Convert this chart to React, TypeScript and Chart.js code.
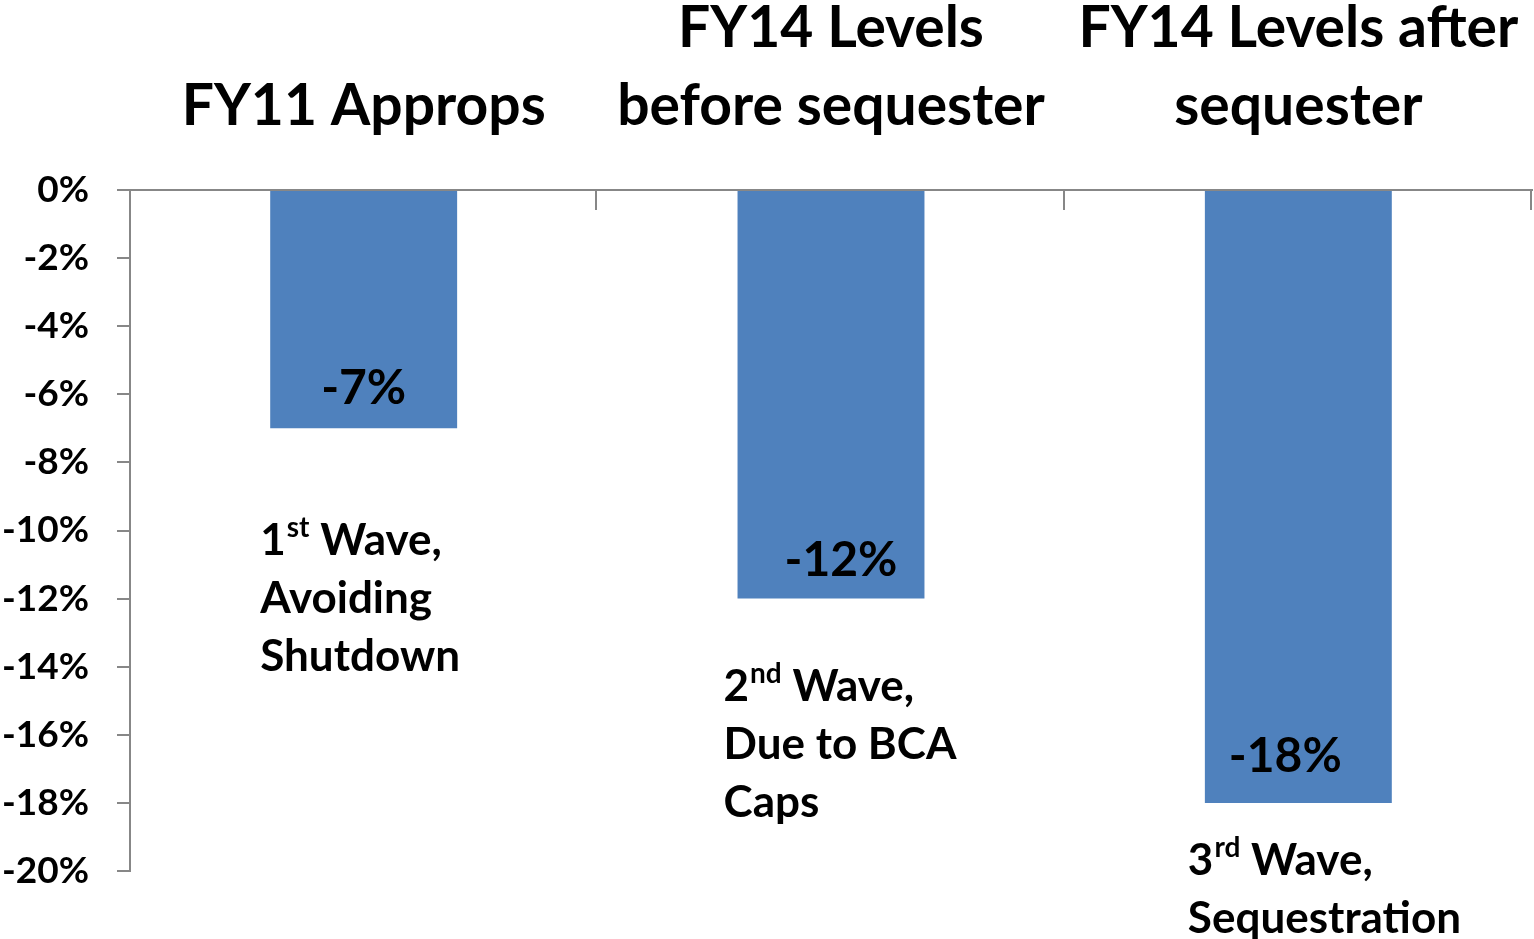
import { useEffect, useRef } from "react";
import { Chart, registerables } from "chart.js";

Chart.register(...registerables);

const categories: string[][] = [
  ["FY11 Approps"],
  ["FY14 Levels", "before sequester"],
  ["FY14 Levels after", "sequester"],
];
const changes: number[] = [-7, -12, -18];
const dataLabels: string[] = ["-7%", "-12%", "-18%"];
const dataLabelAnchors: number[] = [-5.82, -10.87, -16.65];
const yTicks: number[] = [0, -2, -4, -6, -8, -10, -12, -14, -16, -18, -20];
const waveNumbers: string[] = ["1", "2", "3"];
const waveSuffixes: string[] = ["st", "nd", "rd"];
const waveLines: string[][] = [
  ["Avoiding", "Shutdown"],
  ["Due to BCA", "Caps"],
  ["Sequestration"],
];
const waveAnchors: number[] = [-10.3, -14.6, -19.7];

// style offsets (pixels)
const LABEL_DX = [0, 10, -13];
const WAVE_DX = [-10, -14, -17];

const FONT = "Lato, 'Open Sans', sans-serif";
const AXIS_GREY = "#878787";
const BAR_BLUE = "#4F81BD";

const overlayPlugin = {
  id: "overlay",
  afterDatasetsDraw(chart: any) {
    const ctx = chart.ctx;
    const meta = chart.getDatasetMeta(0);
    const xs = chart.scales.x;
    const ys = chart.scales.y;
    ctx.save();
    ctx.strokeStyle = AXIS_GREY;
    ctx.lineWidth = 2;
    const n = categories.length;
    for (let k = 1; k <= n; k++) {
      const px = Math.round(xs.left + (k * (xs.right - xs.left)) / n) - 1;
      ctx.beginPath();
      ctx.moveTo(px, ys.top);
      ctx.lineTo(px, ys.top + 20);
      ctx.stroke();
    }
    ctx.fillStyle = "#000";
    meta.data.forEach((bar: any, i: number) => {
      ctx.font = `bold 48px ${FONT}`;
      ctx.textAlign = "center";
      ctx.textBaseline = "middle";
      ctx.fillText(dataLabels[i], bar.x + LABEL_DX[i], ys.getPixelForValue(dataLabelAnchors[i]));
      const left = bar.x - bar.width / 2 + WAVE_DX[i];
      let y = ys.getPixelForValue(waveAnchors[i]);
      ctx.textAlign = "left";
      ctx.font = `bold 44px ${FONT}`;
      const num = waveNumbers[i];
      ctx.fillText(num, left, y);
      let x = left + ctx.measureText(num).width + 1;
      ctx.font = `bold 28px ${FONT}`;
      ctx.fillText(waveSuffixes[i], x, y - 13);
      x += ctx.measureText(waveSuffixes[i]).width;
      ctx.font = `bold 44px ${FONT}`;
      ctx.fillText(" Wave,", x, y);
      waveLines[i].forEach((line) => {
        y += 58;
        ctx.fillText(line, left, y);
      });
    });
    ctx.restore();
  },
};

export default function App() {
  const ref = useRef<HTMLCanvasElement | null>(null);
  useEffect(() => {
    document.body.style.margin = "0";
    document.body.style.background = "#fff";
    const chart = new Chart(ref.current as HTMLCanvasElement, {
      type: "bar",
      data: {
        labels: categories,
        datasets: [
          {
            data: changes,
            backgroundColor: BAR_BLUE,
            borderWidth: 0,
            barPercentage: 0.4,
            categoryPercentage: 1,
          },
        ],
      },
      plugins: [overlayPlugin],
      options: {
        animation: false,
        responsive: false,
        maintainAspectRatio: false,
        layout: { padding: { left: 0, right: 2, top: 0, bottom: 68 } },
        plugins: {
          legend: { display: false },
          tooltip: { enabled: false },
          title: { display: false },
        },
        scales: {
          x: {
            position: "top",
            offset: true,
            grid: { display: false },
            border: { display: true, color: AXIS_GREY, width: 2 },
            ticks: {
              color: "#000",
              padding: 36,
              maxRotation: 0,
              autoSkip: false,
              font: { family: FONT, size: 57, weight: "bold", lineHeight: "78px" },
            },
            afterFit: (s: any) => {
              s.height = 190;
              s.paddingLeft = 0;
              s.paddingRight = 0;
            },
          },
          y: {
            min: -20,
            max: 0,
            afterBuildTicks: (s: any) => {
              s.ticks = yTicks.map((v) => ({ value: v }));
            },
            grid: {
              drawOnChartArea: false,
              drawTicks: true,
              tickLength: 13,
              color: AXIS_GREY,
              lineWidth: 2,
            },
            border: { display: true, color: AXIS_GREY, width: 2 },
            ticks: {
              color: "#000",
              padding: 28,
              callback: (v: any) => `${v}%`,
              font: { family: FONT, size: 37, weight: "bold" },
            },
            afterFit: (s: any) => {
              s.width = 130;
              s.paddingTop = 0;
              s.paddingBottom = 0;
            },
          },
        },
      },
    } as any);
    return () => chart.destroy();
  }, []);
  return (
    <div style={{ position: "fixed", left: 0, top: 0, width: 1534, height: 939, background: "#fff" }}>
      <canvas ref={ref} width={1534} height={939} style={{ width: 1534, height: 939, display: "block" }} />
    </div>
  );
}
